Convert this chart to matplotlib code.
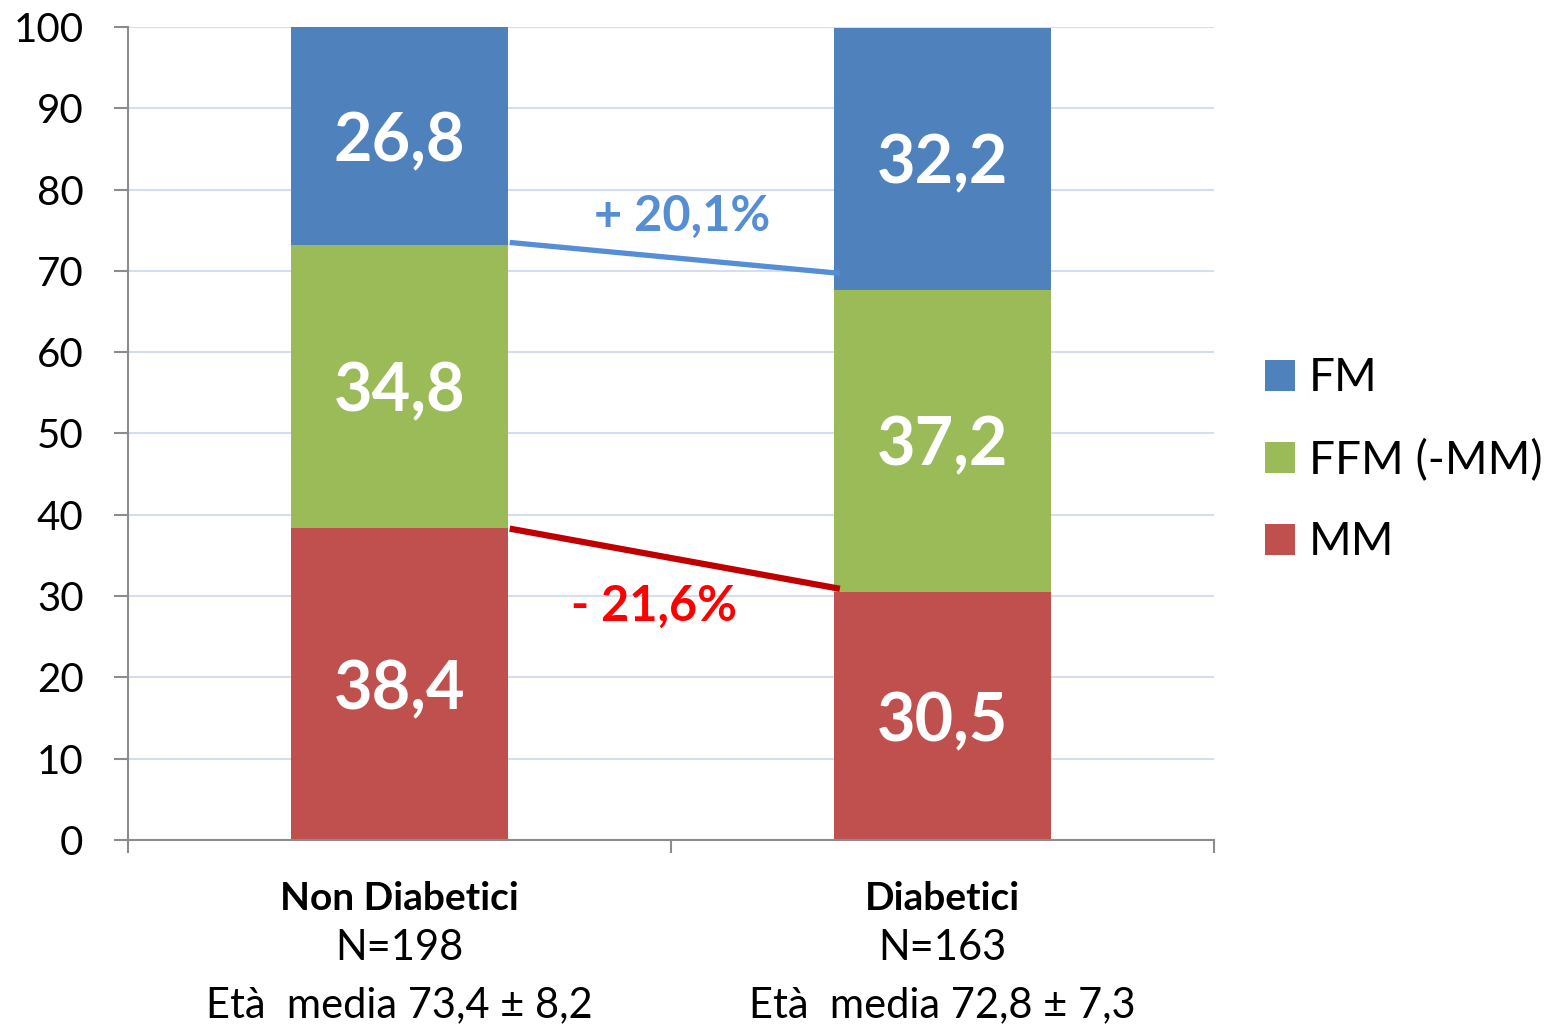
import numpy as np
import matplotlib.pyplot as plt

plt.rcParams['font.family'] = ['Lato', 'DejaVu Sans']

# data
groups = ['Non Diabetici', 'Diabetici']
group_n = ['N=198', 'N=163']
group_age = ['Età  media 73,4 ± 8,2', 'Età  media 72,8 ± 7,3']
mm = [38.4, 30.5]
ffm = [34.8, 37.2]
fm = [26.8, 32.2]
series_names = ['MM', 'FFM (-MM)', 'FM']
colors = ['#C0504D', '#9BBB59', '#4F81BD']

# connector lines between bars (start y, end y) and their labels
fm_line = [73.5, 69.7]
mm_line = [38.3, 30.9]
fm_change = '+ 20,1%'
mm_change = '- 21,6%'

mydpi = 100
fig = plt.figure(figsize=(1565/mydpi, 1028/mydpi), dpi=mydpi)
ax = fig.add_axes([128/1565, 188/1028, 1086/1565, 813/1028])

x = np.arange(len(groups))
width = 0.4
bottom = np.zeros(len(groups))
containers = []
for vals, name, col in zip([mm, ffm, fm], series_names, colors):
    bars = ax.bar(x, vals, width, bottom=bottom, color=col, label=name, zorder=2)
    containers.append(bars)
    for xi, b, v in zip(x, bottom, vals):
        ax.text(xi, b + v/2, f'{v:.1f}'.replace('.', ','), ha='center',
                va='center_baseline', color='white', fontsize=48, fontweight='bold', zorder=3)
    bottom = bottom + np.array(vals)

# the two connector lines
ax.plot([0.203, 0.811], fm_line, color='#558ED5', lw=3.8, solid_capstyle='butt', zorder=4)
ax.plot([0.203, 0.811], mm_line, color='#C00000', lw=4.5, solid_capstyle='butt', zorder=4)
ax.text(0.52, 77.2, fm_change, ha='center', va='center_baseline', color='#558ED5',
        fontsize=35, fontweight='bold')
ax.text(0.469, 29.2, mm_change, ha='center', va='center_baseline', color='#FF0000',
        fontsize=35, fontweight='bold')

ax.set_xlim(-0.5, 1.5)
ax.set_ylim(0, 100)
ax.set_yticks(np.arange(0, 101, 10))
ax.yaxis.grid(True, color='#D5DDEE', lw=1.5, zorder=0)
ax.set_axisbelow(True)
for s in ['top', 'right']:
    ax.spines[s].set_visible(False)
for s in ['left', 'bottom']:
    ax.spines[s].set_color('#8C8C8C')
    ax.spines[s].set_linewidth(1.5)
ax.tick_params(axis='y', length=10, width=1.5, color='#8C8C8C', pad=22, labelsize=29)
ax.set_xticks([-0.5, 0.5, 1.5])
ax.set_xticklabels([])
ax.tick_params(axis='x', length=9, width=1.5, color='#8C8C8C')

# category labels under the axis
for i in x:
    ax.annotate(groups[i], xy=(i, 0), xycoords=('data', 'axes fraction'),
                xytext=(0, -42), textcoords='offset points', ha='center', va='center',
                fontsize=28, fontweight='bold')
    ax.annotate(group_n[i], xy=(i, 0), xycoords=('data', 'axes fraction'),
                xytext=(0, -78), textcoords='offset points', ha='center', va='center',
                fontsize=30)
    ax.annotate(group_age[i], xy=(i, 0), xycoords=('data', 'axes fraction'),
                xytext=(0, -119), textcoords='offset points', ha='center', va='center',
                fontsize=30)

ax.legend(handles=containers[::-1], loc='center left', bbox_to_anchor=(1.047, 0.467),
          frameon=False, fontsize=33, handlelength=0.655, handleheight=0.655,
          handletextpad=0.3, labelspacing=0.86, borderaxespad=0, borderpad=0)

plt.savefig('out.png', dpi=mydpi)
